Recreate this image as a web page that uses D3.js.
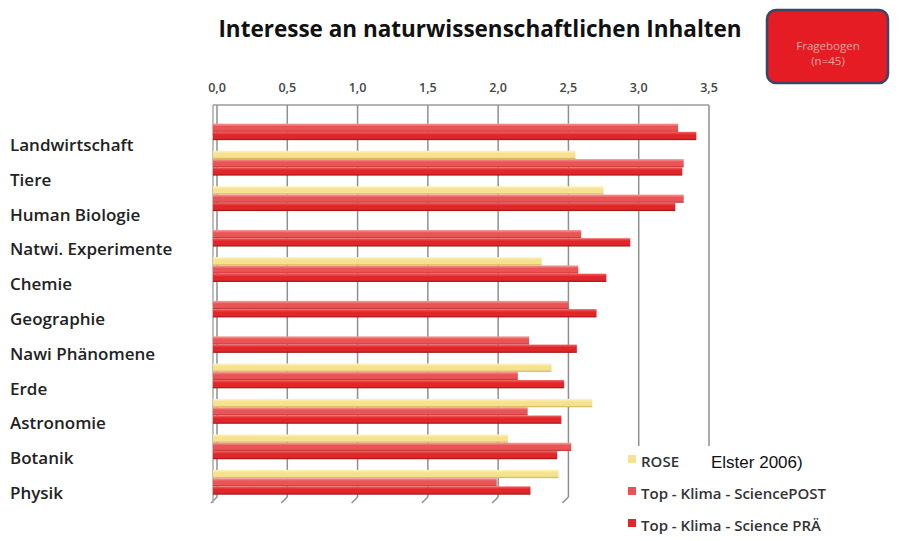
<!DOCTYPE html>
<html>
<head>
<meta charset="utf-8">
<script src="https://cdn.jsdelivr.net/npm/d3@7"></script>
<style>
  body { margin: 0; background: #fff; }
  svg { display: block; }
</style>
</head>
<body>
<div id="chart"></div>
<script>
// data (ROSE has no value for some rows)
var categories = ["Landwirtschaft", "Tiere", "Human Biologie", "Natwi. Experimente", "Chemie",
    "Geographie", "Nawi Phänomene", "Erde", "Astronomie", "Botanik", "Physik"];
var seriesNames = ["ROSE", "Top - Klima - SciencePOST", "Top - Klima - Science PRÄ"];
var roseValues = [null, 2.55, 2.75, null, 2.31, null, null, 2.38, 2.67, 2.07, 2.43];
var postValues = [3.28, 3.32, 3.32, 2.59, 2.57, 2.50, 2.22, 2.14, 2.21, 2.52, 1.99];
var praValues  = [3.41, 3.31, 3.26, 2.94, 2.77, 2.70, 2.56, 2.47, 2.45, 2.42, 2.23];
var xTicks = [0, 0.5, 1, 1.5, 2, 2.5, 3, 3.5];

var colors = {
    "ROSE": { top: "#fdf3c0", mid: "#f6e28e", bot: "#c9aa55" },
    "Top - Klima - SciencePOST": { top: "#f7a0a0", mid: "#ea5454", bot: "#b83030" },
    "Top - Klima - Science PRÄ": { top: "#f26060", mid: "#e1262a", bot: "#8e1414" }
};

var font = "'Open Sans', Lato, sans-serif";
var width = 899, height = 541;
var svg = d3.select("#chart").append("svg")
    .attr("width", width)
    .attr("height", height);

var deFormat = d3.formatLocale({ decimal: ",", thousands: ".", grouping: [3], currency: ["", "€"] }).format(".1f");

var plotTop = 105, plotBottom = 497;
var x = d3.scaleLinear().domain([0, 3.5]).range([217, 709]);
var y0 = d3.scaleBand().domain(categories).range([110, 500]).paddingInner(0.3).paddingOuter(0.15);
var y1 = d3.scaleBand().domain(seriesNames).range([0, y0.bandwidth()]);
// labels sit a little lower than the bar groups (3D perspective)
var yLabel = d3.scalePoint().domain(categories).range([145, 493]);

var rows = categories.map(function(c, i) {
    return { cat: c, values: [roseValues[i], postValues[i], praValues[i]] };
});

// gradients for the 3D look of the bars
var defs = svg.append("defs");
seriesNames.forEach(function(s, i) {
    var g = defs.append("linearGradient")
        .attr("id", "grad" + i)
        .attr("x1", 0).attr("y1", 0).attr("x2", 0).attr("y2", 1);
    g.append("stop").attr("offset", "0%").attr("stop-color", colors[s].top);
    g.append("stop").attr("offset", "35%").attr("stop-color", colors[s].mid);
    g.append("stop").attr("offset", "78%").attr("stop-color", colors[s].mid);
    g.append("stop").attr("offset", "100%").attr("stop-color", colors[s].bot);
});

// title
svg.append("text")
    .attr("x", 480).attr("y", 37)
    .attr("text-anchor", "middle")
    .style("font-family", font)
    .style("font-weight", "bold")
    .style("font-size", "22.5px")
    .attr("fill", "#111")
    .text("Interesse an naturwissenschaftlichen Inhalten");

// grid
var grid = svg.append("g").attr("class", "grid");
grid.selectAll("line.v")
    .data(xTicks)
    .enter().append("line")
    .attr("class", "v")
    .attr("x1", function(d) { return x(d); })
    .attr("x2", function(d) { return x(d); })
    .attr("y1", plotTop)
    .attr("y2", plotBottom)
    .attr("stroke", "#8f8f8f")
    .attr("stroke-width", 1.5);
grid.selectAll("line.slant")
    .data(xTicks)
    .enter().append("line")
    .attr("class", "slant")
    .attr("x1", function(d) { return x(d); })
    .attr("x2", function(d) { return x(d) - 6; })
    .attr("y1", plotBottom)
    .attr("y2", plotBottom + 6)
    .attr("stroke", "#8f8f8f")
    .attr("stroke-width", 1.5);
grid.append("line")
    .attr("x1", x(0) - 4).attr("x2", x(3.5))
    .attr("y1", plotTop).attr("y2", plotTop)
    .attr("stroke", "#9a9a9a").attr("stroke-width", 1.5);
grid.append("line")
    .attr("x1", x(0) - 4).attr("x2", x(0) - 4)
    .attr("y1", plotTop).attr("y2", plotBottom + 6)
    .attr("stroke", "#aaaaaa").attr("stroke-width", 1.5);

// tick labels
svg.append("g").selectAll("text")
    .data(xTicks)
    .enter().append("text")
    .attr("x", function(d) { return x(d); })
    .attr("y", 92)
    .attr("text-anchor", "middle")
    .style("font-family", font)
    .style("font-weight", 600)
    .style("font-size", "12.5px")
    .attr("fill", "#444")
    .text(function(d) { return deFormat(d); });

// bars
var groups = svg.append("g").attr("class", "bars")
    .selectAll("g")
    .data(rows)
    .enter().append("g")
    .attr("transform", function(d) { return "translate(0," + y0(d.cat) + ")"; });

groups.selectAll("rect")
    .data(function(d) {
        return seriesNames.map(function(s, i) { return { key: s, idx: i, value: d.values[i] }; })
            .filter(function(e) { return e.value !== null; });
    })
    .enter().append("rect")
    .attr("x", x(0) - 4)
    .attr("y", function(d) { return y1(d.key); })
    .attr("width", function(d) { return x(d.value) - x(0) + 4; })
    .attr("height", y1.bandwidth())
    .attr("fill", function(d) { return "url(#grad" + d.idx + ")"; });

// category labels
svg.append("g").selectAll("text")
    .data(categories)
    .enter().append("text")
    .attr("x", 10)
    .attr("y", function(d) { return yLabel(d); })
    .attr("dy", "0.35em")
    .style("font-family", font)
    .style("font-weight", 600)
    .style("font-size", "17px")
    .attr("fill", "#222")
    .text(function(d) { return d; });

// legend block (covers the grid lines)
var legend = svg.append("g").attr("class", "legend");
legend.append("rect")
    .attr("x", 612).attr("y", 446)
    .attr("width", 287).attr("height", 95)
    .attr("fill", "#fff");
var legendY = d3.scalePoint().domain(seriesNames).range([463, 527]);
legend.selectAll("rect.sw")
    .data(seriesNames)
    .enter().append("rect")
    .attr("class", "sw")
    .attr("x", 628)
    .attr("y", function(d) { return legendY(d) - 8; })
    .attr("width", 8).attr("height", 8)
    .attr("fill", function(d) { return colors[d].mid; });
legend.selectAll("text")
    .data(seriesNames)
    .enter().append("text")
    .attr("x", 641)
    .attr("y", function(d) { return legendY(d) + 4; })
    .style("font-family", font)
    .style("font-weight", 600)
    .style("font-size", "15px")
    .attr("fill", "#333")
    .text(function(d) { return d; });

svg.append("text")
    .attr("x", 711).attr("y", 468)
    .style("font-family", "'Liberation Sans', Arial, sans-serif")
    .style("font-size", "17px")
    .attr("fill", "#111")
    .text("Elster 2006)");

// red box top right
svg.append("rect")
    .attr("x", 767).attr("y", 10)
    .attr("width", 121).attr("height", 73)
    .attr("rx", 9).attr("ry", 9)
    .attr("fill", "#e51c24")
    .attr("stroke", "#39456a")
    .attr("stroke-width", 2.5);
svg.append("text")
    .attr("x", 828).attr("y", 50)
    .attr("text-anchor", "middle")
    .style("font-family", font)
    .style("font-size", "11.5px")
    .attr("fill", "#f7a7a0")
    .text("Fragebogen");
svg.append("text")
    .attr("x", 828).attr("y", 65)
    .attr("text-anchor", "middle")
    .style("font-family", font)
    .style("font-size", "11.5px")
    .attr("fill", "#f7a7a0")
    .text("(n=45)");
</script>
</body>
</html>
